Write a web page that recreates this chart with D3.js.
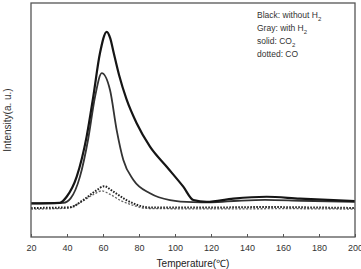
<!DOCTYPE html>
<html>
<head>
<meta charset="utf-8">
<script src="https://cdn.jsdelivr.net/npm/d3@7"></script>
<style>
  body { margin: 0; background: #fff; }
  svg { display: block; font-family: "Liberation Sans", Arial, sans-serif; }
</style>
</head>
<body>
<script>
// temperature (°C) / intensity (a.u.) pairs
const blackCO2T = [20, 36, 39.8, 45.4, 50.9, 54.6, 58.3, 62.1, 64, 66, 69, 73, 78.7, 86.1, 95.4, 104.6, 110.2, 117.6, 132.4, 150.9, 169.4, 188, 200];
const blackCO2V = [14.4, 14.6, 17.2, 25.8, 42.9, 60, 78.5, 87.7, 85, 78.5, 69, 59, 48.6, 38.6, 30, 21.5, 15.8, 15, 16.4, 17.2, 16.4, 15.8, 15.3];

const grayCO2T = [20, 38, 42, 47.2, 51.8, 55.6, 59.3, 63.9, 67.6, 71.3, 76.9, 86.1, 97.2, 110, 120, 135, 150, 170, 200];
const grayCO2V = [14.4, 14.6, 16.5, 25.8, 42, 60, 70, 62.8, 45.7, 32.9, 24.4, 18.7, 15.8, 14.9, 14.8, 15.5, 15.9, 15.5, 15];

const blackCOT = [20, 41.7, 49, 56.5, 60.6, 65.7, 73, 80.6, 86, 120, 150, 180, 200];
const blackCOV = [12.4, 12.7, 15.8, 20, 21.7, 19.4, 15.8, 13.3, 12.6, 12.6, 12.8, 12.6, 12.4];

const grayCOT = [20, 40, 48, 55, 59.3, 64, 70, 76.9, 84, 120, 160, 200];
const grayCOV = [11.9, 12.3, 15, 18.3, 19.7, 18.2, 15.5, 13.5, 12.2, 12, 12.1, 11.9];

const xTicks = [20, 40, 60, 80, 100, 120, 140, 160, 180, 200];
const legendLines = ["Black: without H|2", "Gray: with H|2", "solid: CO|2", "dotted: CO"];

const W = 361, H = 269;
const m = {left: 31, right: 6, top: 3, bottom: 32};

const svg = d3.select("body").append("svg").attr("width", W).attr("height", H);

const x = d3.scaleLinear().domain([20, 200]).range([m.left, W - m.right]);
const y = d3.scaleLinear().domain([0, 100]).range([H - m.bottom, m.top]);

const line = d3.line()
  .x(d => x(d[0]))
  .y(d => y(d[1]))
  .curve(d3.curveMonotoneX);

function series(T, V, stroke, width, dash) {
  svg.append("path")
    .datum(d3.zip(T, V))
    .attr("fill", "none")
    .attr("stroke", stroke)
    .attr("stroke-width", width)
    .attr("stroke-dasharray", dash)
    .attr("d", line);
}

series(grayCOT, grayCOV, "#666", 1.3, "2,1.6");
series(blackCOT, blackCOV, "#222", 2, "1.6,1.4");
series(grayCO2T, grayCO2V, "#333", 1.8, null);
series(blackCO2T, blackCO2V, "#151515", 2.2, null);

// frame
svg.append("rect")
  .attr("x", m.left).attr("y", m.top)
  .attr("width", W - m.left - m.right).attr("height", H - m.top - m.bottom)
  .attr("fill", "none").attr("stroke", "#555").attr("stroke-width", 1.3);

// bottom axis: inward ticks
const xAxis = svg.append("g")
  .attr("transform", `translate(0,${H - m.bottom})`)
  .call(d3.axisBottom(x).tickValues(xTicks).tickSizeInner(-3).tickSizeOuter(0).tickPadding(8));
xAxis.select(".domain").remove();
xAxis.selectAll("line").attr("stroke", "#555");
xAxis.selectAll("text").attr("fill", "#333").style("font-size", "9px");

svg.append("text")
  .attr("x", (m.left + W - m.right) / 2).attr("y", 267)
  .attr("text-anchor", "middle").attr("fill", "#222").style("font-size", "10px")
  .text("Temperature(℃)");

svg.append("text")
  .attr("transform", `translate(11,${(m.top + H - m.bottom) / 2}) rotate(-90)`)
  .attr("text-anchor", "middle").attr("fill", "#333").style("font-size", "10px")
  .text("Intensity(a. u.)");

// legend text with subscripts
legendLines.forEach((s, i) => {
  const [main, sub] = s.split("|");
  const t = svg.append("text")
    .attr("x", 257).attr("y", 18 + i * 13)
    .attr("fill", "#333").style("font-size", "8.5px");
  t.append("tspan").text(main);
  if (sub) t.append("tspan").attr("dy", 2.5).style("font-size", "6px").text(sub);
});
</script>
</body>
</html>
